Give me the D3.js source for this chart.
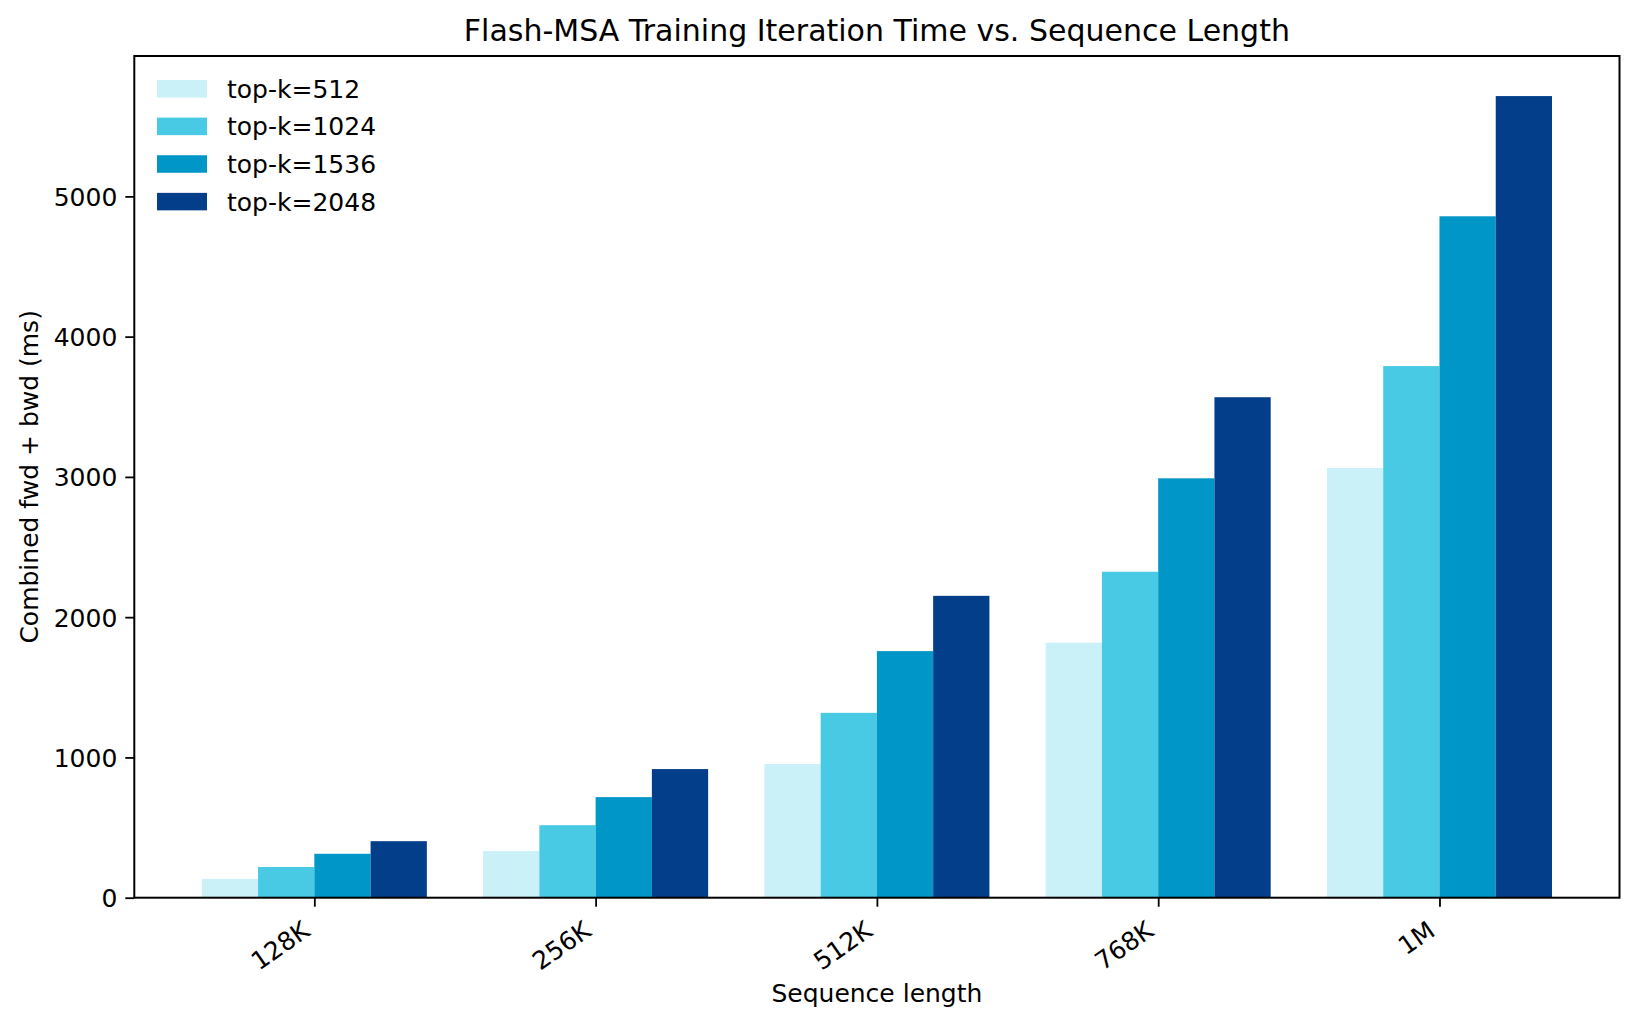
<!DOCTYPE html>
<html lang="en">
<head>
<meta charset="UTF-8">
<title>Flash-MSA Training Iteration Time vs. Sequence Length</title>
<script src="https://d3js.org/d3.v7.min.js"></script>
<style>
    body { margin: 0; background: #fff; }
    svg text { font-family: "DejaVu Sans", sans-serif; fill: #000; }
</style>
</head>
<body>
<div id="chart"></div>
<script>
    // data
    const seqLengths = ["128K", "256K", "512K", "768K", "1M"];
    const topK = ["top-k=512", "top-k=1024", "top-k=1536", "top-k=2048"];
    const colors = ["#caf0f8", "#48cae4", "#0096c7", "#023e8a"];
    const times = [
        [134, 332, 953, 1818, 3063],   // top-k=512
        [219, 517, 1318, 2324, 3790],  // top-k=1024
        [313, 717, 1758, 2990, 4858],  // top-k=1536
        [403, 917, 2152, 3568, 5715]   // top-k=2048
    ];
    const yTicks = [0, 1000, 2000, 3000, 4000, 5000];

    const W = 1638, H = 1026;
    const plotLeft = 134.3, plotRight = 1619.5, plotTop = 56, plotBottom = 897.7;
    const fs = 25;
    const barW = 0.2;

    const svg = d3.select("#chart").append("svg")
        .attr("width", W).attr("height", H);

    const x = d3.scaleLinear().domain([-0.64, seqLengths.length - 1 + 0.64]).range([plotLeft, plotRight]);
    const yMax = d3.max(times.flat()) * 1.05;
    const y = d3.scaleLinear().domain([0, yMax]).range([plotBottom, plotTop]);

    // bars
    times.forEach((series, j) => {
        svg.append("g").selectAll("rect")
            .data(series)
            .enter().append("rect")
            .attr("x", (d, i) => x(i + (j - 1.5) * barW - barW / 2))
            .attr("width", x(barW) - x(0))
            .attr("y", d => y(d))
            .attr("height", d => y(0) - y(d))
            .attr("fill", colors[j]);
    });

    // y axis
    const yAxis = d3.axisLeft(y).tickValues(yTicks).tickSize(9).tickPadding(8).tickFormat(d3.format("d"));
    const gy = svg.append("g").attr("transform", `translate(${plotLeft},0)`).call(yAxis);
    gy.select(".domain").remove();
    gy.selectAll(".tick line").attr("stroke-width", 1.8);
    gy.selectAll(".tick text").style("font-size", fs + "px").attr("dy", "0.36em");

    // x axis
    const xAxis = d3.axisBottom(x).tickValues(d3.range(seqLengths.length)).tickSize(9).tickFormat(i => seqLengths[i]);
    const gx = svg.append("g").attr("transform", `translate(0,${plotBottom})`).call(xAxis);
    gx.select(".domain").remove();
    gx.selectAll(".tick line").attr("stroke-width", 1.8);
    const ang = 35, rad = ang * Math.PI / 180, boxH = 1.164 * fs;
    gx.selectAll(".tick text")
        .style("font-size", fs + "px")
        .attr("text-anchor", "end")
        .attr("x", 0).attr("y", 0).attr("dy", "0.928em")
        .attr("transform", `translate(${-boxH * Math.sin(rad)},${9 + 8.6}) rotate(${-ang})`);

    // frame
    svg.append("rect")
        .attr("x", plotLeft).attr("y", plotTop)
        .attr("width", plotRight - plotLeft).attr("height", plotBottom - plotTop)
        .attr("fill", "none").attr("stroke", "#000").attr("stroke-width", 2);

    // labels
    svg.append("text")
        .attr("x", (plotLeft + plotRight) / 2).attr("y", 41)
        .attr("text-anchor", "middle")
        .style("font-size", (fs * 1.2) + "px")
        .text("Flash-MSA Training Iteration Time vs. Sequence Length");

    svg.append("text")
        .attr("x", (plotLeft + plotRight) / 2).attr("y", 1002)
        .attr("text-anchor", "middle")
        .style("font-size", fs + "px")
        .text("Sequence length");

    svg.append("text")
        .attr("transform", `translate(38,${(plotTop + plotBottom) / 2}) rotate(-90)`)
        .attr("text-anchor", "middle")
        .style("font-size", fs + "px")
        .text("Combined fwd + bwd (ms)");

    // legend, no frame
    const legend = svg.append("g").selectAll("g")
        .data(topK)
        .enter().append("g")
        .attr("transform", (d, i) => `translate(157,${88.8 + i * 37.6})`);
    legend.append("rect")
        .attr("x", 0).attr("y", -0.35 * fs)
        .attr("width", 2 * fs).attr("height", 0.7 * fs)
        .attr("fill", (d, i) => colors[i]);
    legend.append("text")
        .attr("x", 2.8 * fs).attr("y", 0).attr("dy", "0.36em")
        .style("font-size", fs + "px")
        .text(d => d);
</script>
</body>
</html>
